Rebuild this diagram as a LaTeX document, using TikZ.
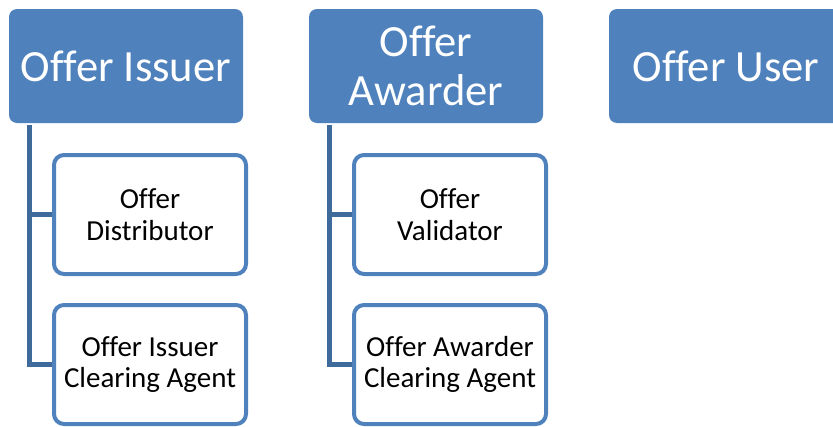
\documentclass[tikz,border=0pt]{standalone}
\usepackage{fontspec}
\setmainfont[Ligatures=NoCommon]{Carlito}
\usetikzlibrary{positioning}
\definecolor{accblue}{HTML}{4F81BD}
\definecolor{barblue}{HTML}{3F6A9C}
\tikzset{
  role/.style ={rectangle, fill=accblue, text=white, minimum width=234pt,
                minimum height=114pt, align=center, rounded corners=8pt,
                font=\fontsize{44.6}{49}\selectfont, inner sep=0pt},
  sub/.style  ={rectangle, draw=accblue, line width=4pt, fill=white,
                minimum width=192pt, minimum height=119pt, align=center,
                rounded corners=10pt, font=\fontsize{29}{31.8}\selectfont, inner sep=0pt},
  conn/.style ={draw=barblue, line width=5pt}
}
\begin{document}
\begin{tikzpicture}[x=1pt, y=-1pt]
  \useasboundingbox (0,0) rectangle (833,426);
  % top row
  \node[role] (iss) at (126,66) {Offer Issuer};
  \node[role] (awd) at (426,66) {Offer\\Awarder};
  \node[role] (usr) at (726,66) {Offer User};
  % children
  \node[sub] (dist) at (150,214.5) {Offer\\Distributor};
  \node[sub, below=27pt of dist] (isscl) {Offer Issuer\\Clearing Agent};
  \node[sub] (valid) at (450,214.5) {Offer\\Validator};
  \node[sub, below=27pt of valid] (awdcl) {Offer Awarder\\Clearing Agent};
  % bars
  \coordinate (issbar) at ([xshift=21pt, yshift=-2pt]iss.south west);
  \coordinate (awdbar) at ([xshift=21pt, yshift=-2pt]awd.south west);
  \draw[conn] (issbar) |- (dist.west);
  \draw[conn] (issbar) |- (isscl.west);
  \draw[conn] (awdbar) |- (valid.west);
  \draw[conn] (awdbar) |- (awdcl.west);
\end{tikzpicture}
\end{document}
